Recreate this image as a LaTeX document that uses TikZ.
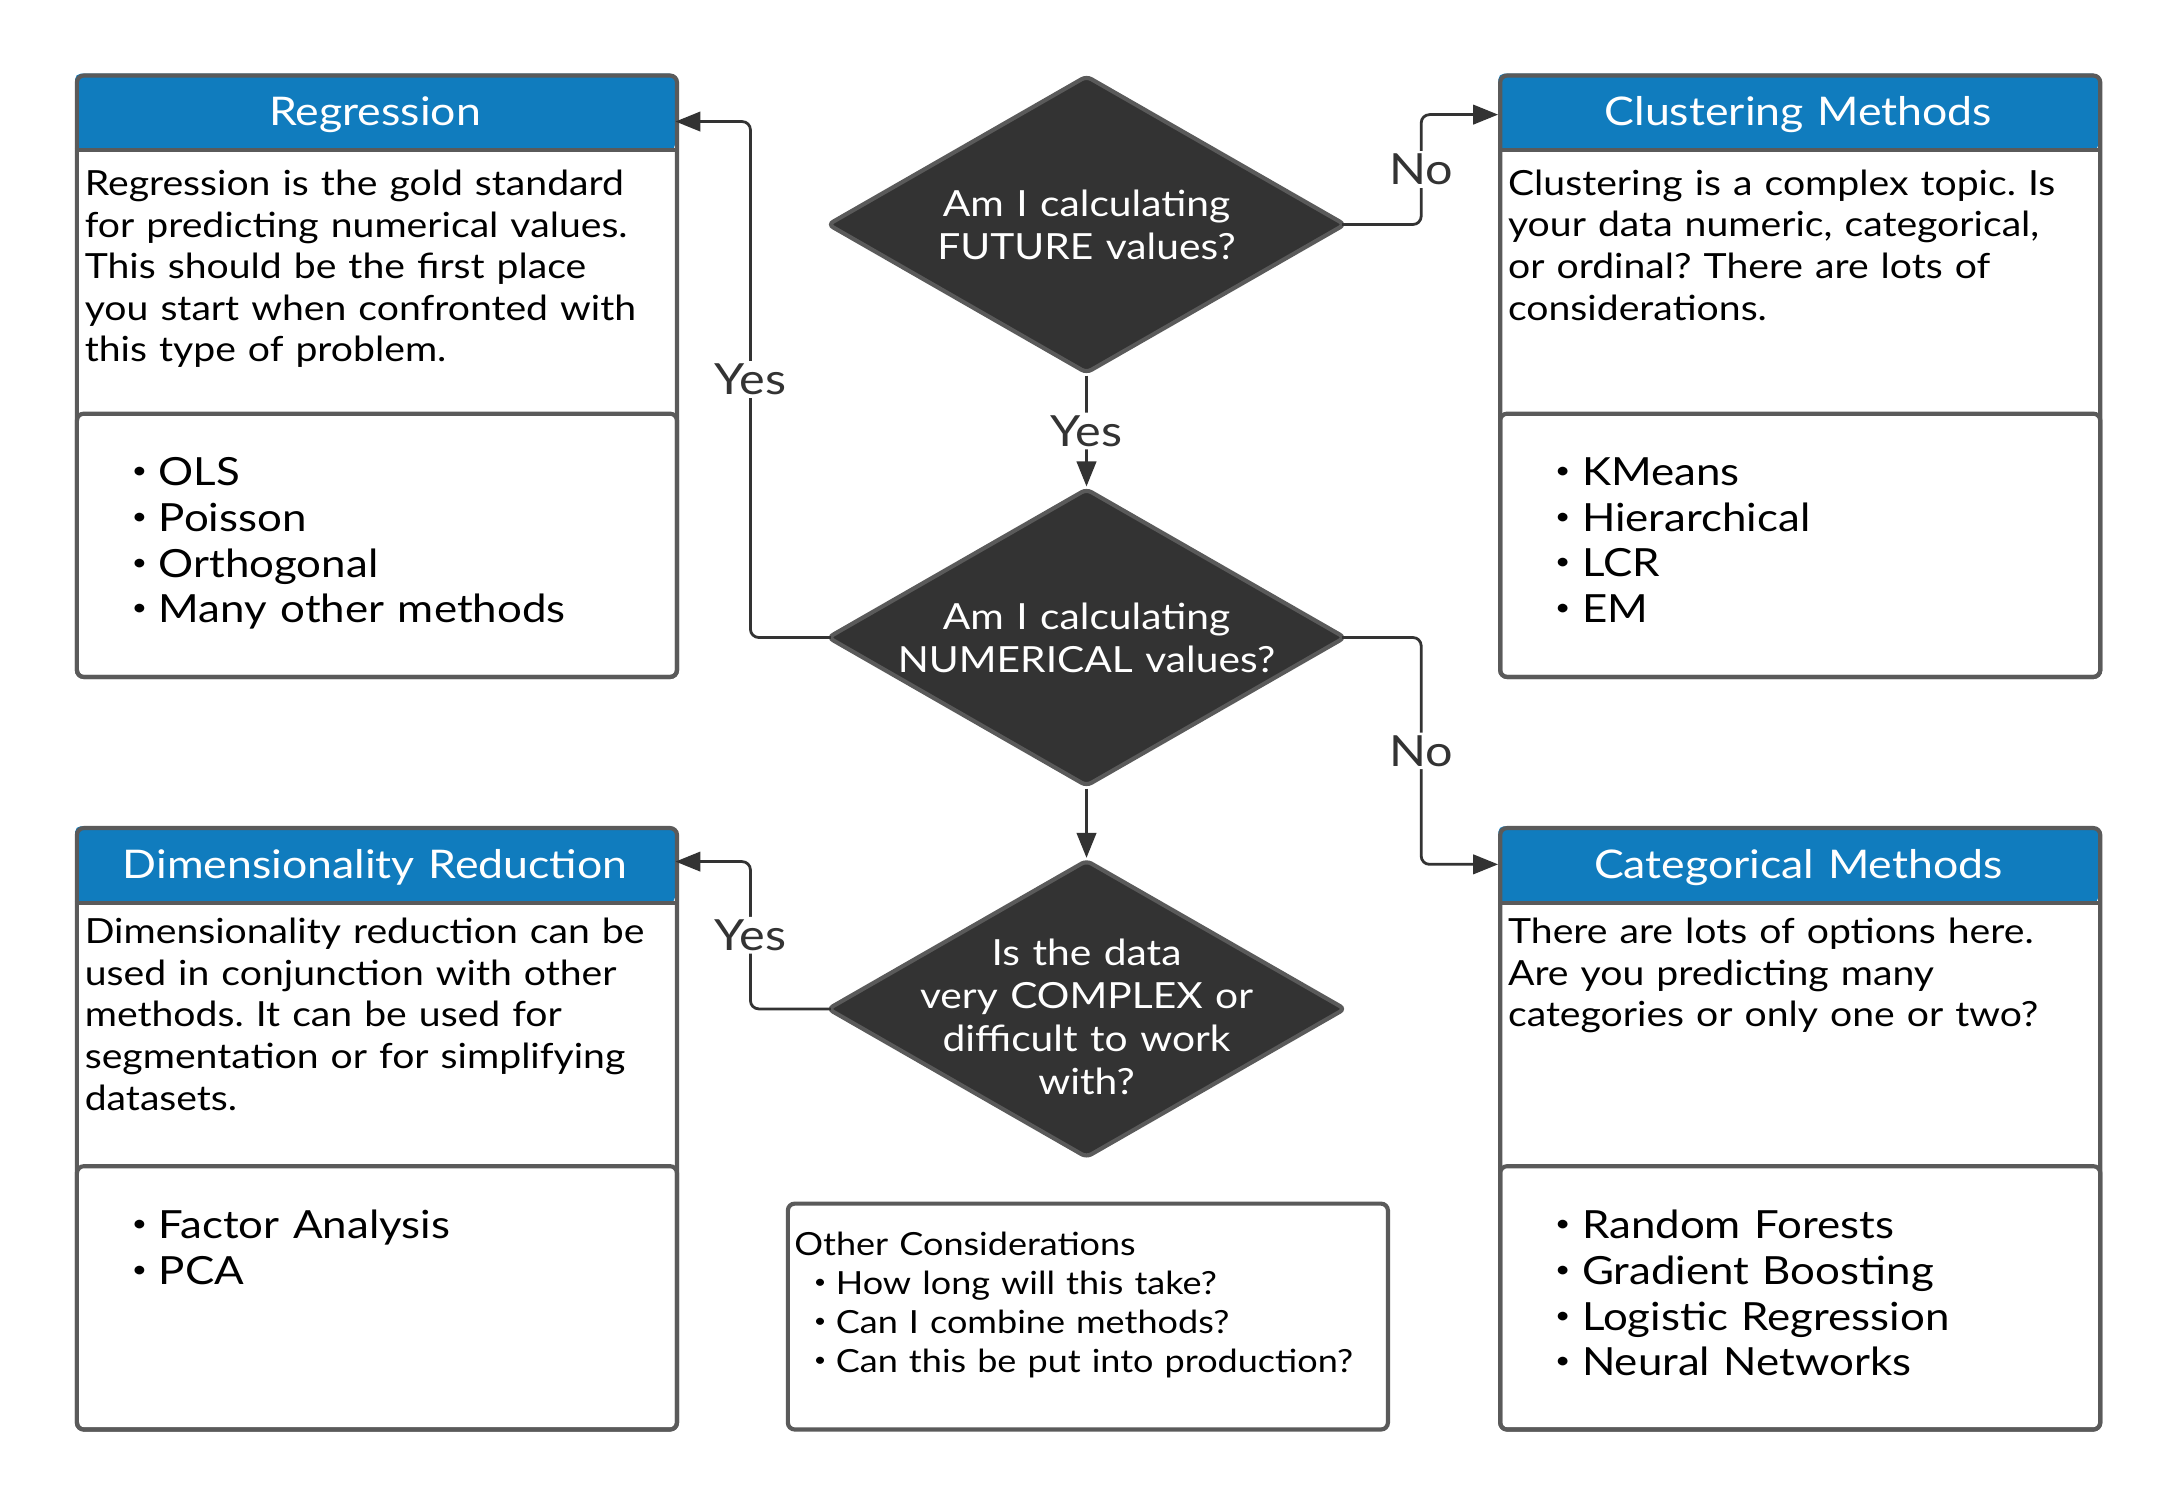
\documentclass[tikz,border=0pt]{standalone}
\usepackage{fontspec}
\setmainfont{Lato}[FakeStretch=1.13,WordSpace=1.2]
\usetikzlibrary{arrows.meta}
\usetikzlibrary{calc}
\usetikzlibrary{shapes.geometric}

\definecolor{hdblue}{HTML}{107CBE}
\definecolor{frgray}{HTML}{5A5A5A}
\definecolor{qdark}{HTML}{333333}

\newcommand{\dotitem}{\raisebox{0.18em}{\scalebox{0.6}{\textbullet}}\hspace{0.3em}}
\frenchspacing

\tikzset{
	boxframe/.style={draw=frgray,line width=3pt,rounded corners=5pt,minimum width=433pt,anchor=north west,inner sep=0pt},
	head/.style={fill=hdblue,rounded corners=4pt,minimum width=433pt,minimum height=55pt,anchor=north west,inner sep=0pt,text height=20pt,text depth=0pt,text=white,font=\fontsize{28.5}{33}\selectfont},
	desc/.style={anchor=north west,align=left,inner sep=0pt,font=\fontsize{25}{30}\selectfont},
	items/.style={anchor=north west,align=left,inner sep=0pt,font=\fontsize{28}{33}\selectfont},
	decision/.style={diamond,fill=qdark,draw=frgray,line width=3pt,rounded corners=4pt,minimum width=374pt,minimum height=215pt,inner sep=0pt},
	qtext/.style={text=white,align=center,inner sep=0pt,font=\fontsize{26}{31}\selectfont},
	conn/.style={draw=qdark,line width=2pt,rounded corners=6pt,-{Triangle[length=18pt,width=14pt]}},
	ans/.style={fill=white,text=qdark,inner sep=2pt,font=\fontsize{31}{36}\selectfont}
}

\begin{document}
\begin{tikzpicture}[x=1pt,y=-1pt]
	\fill[white] (0,0) rectangle (1568,1084);
	\foreach \n/\x/\y/\t in {reg/54/53/Regression,clu/1081/53/Clustering Methods,dim/54/596/Dimensionality Reduction,cat/1081/596/Categorical Methods} {
		\node[head] (\n-h) at (\x,\y) {\t};
		\node[boxframe,minimum height=190pt] (\n-l) at (\x,\y+244) {};
		\draw[frgray,line width=3pt] (\n-h.south west) -- (\n-h.south east);
		\node[boxframe,minimum height=434pt] (\n) at (\x,\y) {};
	}
	\node[desc] (reg-d) at ($(reg-h.south west)+(7,14)$) {Regression is the gold standard\\for predicting numerical values.\\This should be the first place\\you start when confronted with\\this type of problem.};
	\node[desc] (clu-d) at ($(clu-h.south west)+(7,14)$) {Clustering is a complex topic. Is\\your data numeric, categorical,\\or ordinal? There are lots of\\considerations.};
	\node[desc] (dim-d) at ($(dim-h.south west)+(7,11)$) {Dimensionality reduction can be\\used in conjunction with other\\methods. It can be used for\\segmentation or for simplifying\\datasets.};
	\node[desc] (cat-d) at ($(cat-h.south west)+(7,11)$) {There are lots of options here.\\Are you predicting many\\categories or only one or two?};
	\node[items] (reg-i) at ($(reg-l.north west)+(41,33)$) {\dotitem OLS\\\dotitem Poisson\\\dotitem Orthogonal\\\dotitem Many other methods};
	\node[items] (clu-i) at ($(clu-l.north west)+(41,33)$) {\dotitem KMeans\\\dotitem Hierarchical\\\dotitem LCR\\\dotitem EM};
	\node[items] (dim-i) at ($(dim-l.north west)+(41,33)$) {\dotitem Factor Analysis\\\dotitem PCA};
	\node[items] (cat-i) at ($(cat-l.north west)+(41,33)$) {\dotitem Random Forests\\\dotitem Gradient Boosting\\\dotitem Logistic Regression\\\dotitem Neural Networks};

	\node[decision] (q1) at (784,162) {};
	\node[qtext] (q1-t) at (q1) {Am I calculating\\FUTURE values?};
	\node[decision] (q2) at (784,460) {};
	\node[qtext] (q2-t) at (q2) {Am I calculating\\NUMERICAL values?};
	\node[decision] (q3) at (784,728) {};
	\node[qtext] (q3-t) at ($(q3)+(0,6)$) {Is the data\\very COMPLEX or\\difficult to work\\with?};

	\node[boxframe,minimum height=163pt] (oth) at (567,867) {};
	\node[desc,font=\fontsize{23}{28}\selectfont] (oth-t) at ($(oth.north west)+(6,22)$) {Other Considerations\\\hspace*{14pt}\dotitem How long will this take?\\\hspace*{14pt}\dotitem Can I combine methods?\\\hspace*{14pt}\dotitem Can this be put into production?};

	\draw[conn,shorten <=-4pt] (q1.east) -- ++(53,0) |- ([yshift=-2pt]clu-h.west) node[ans,pos=0.25] (a1) {No};
	\draw[conn] (q1.south) -- (q2.north) node[ans,midway] (a2) {Yes};
	\draw[conn,shorten <=-4pt] (q2.west) -- ++(-54,0) |- ([yshift=-7pt]reg-h.east) node[ans,pos=0.25] (a3) {Yes};
	\draw[conn,shorten <=-4pt] (q2.east) -- ++(53,0) |- (cat-h.west) node[ans,pos=0.25] (a4) {No};
	\draw[conn] (q2.south) -- (q3.north);
	\draw[conn,shorten <=-4pt] (q3.west) -- ++(-54,0) |- ([yshift=2pt]dim-h.east) node[ans,pos=0.25] (a5) {Yes};
\end{tikzpicture}
\end{document}
